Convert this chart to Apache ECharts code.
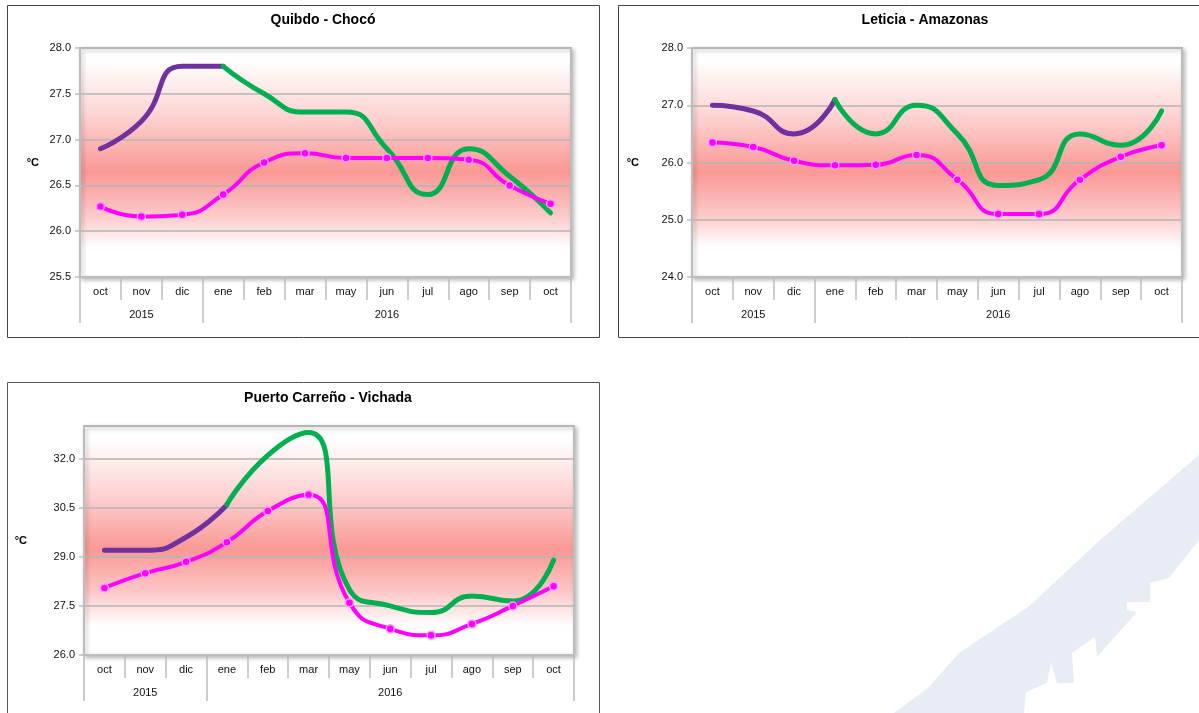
<!DOCTYPE html>
<html><head><meta charset="utf-8">
<script src="https://cdn.jsdelivr.net/npm/echarts@6/dist/echarts.min.js"></script>
<style>html,body{margin:0;padding:0;background:#fff}#c{width:1199px;height:713px}</style>
</head><body><div id="c"></div><script>
// ---------- data ----------
const months = ['oct','nov','dic','ene','feb','mar','may','jun','jul','ago','sep','oct'];
const yearLabels = ['2015','2016'];
const yearStarts = [0, 3];
const yearCounts = [3, 9];
const splitIndex = 3; // purple segment ends / green segment starts at 'ene'

const titles = ['Quibdo - Chocó', 'Leticia - Amazonas', 'Puerto Carreño - Vichada'];
const unitLabel = '°C';

const quibdoObserved = [26.9, 27.2, 27.8, 27.8, 27.5, 27.3, 27.3, 26.9, 26.4, 26.9, 26.6, 26.2];
const quibdoNormal   = [26.27, 26.16, 26.18, 26.4, 26.75, 26.85, 26.8, 26.8, 26.8, 26.78, 26.5, 26.3];
const quibdoTicks    = [25.5, 26.0, 26.5, 27.0, 27.5, 28.0];

const leticiaObserved = [27.0, 26.9, 26.5, 27.1, 26.5, 27.0, 26.5, 25.6, 25.7, 26.5, 26.3, 26.9];
const leticiaNormal   = [26.35, 26.27, 26.03, 25.95, 25.96, 26.13, 25.7, 25.1, 25.1, 25.7, 26.1, 26.3];
const leticiaTicks    = [24.0, 25.0, 26.0, 27.0, 28.0];

const carrenoObserved = [29.2, 29.2, 29.6, 30.6, 32.1, 32.8, 28.0, 27.5, 27.3, 27.8, 27.65, 28.9];
const carrenoNormal   = [28.05, 28.5, 28.85, 29.45, 30.4, 30.9, 27.6, 26.8, 26.6, 26.95, 27.5, 28.1];
const carrenoTicks    = [26.0, 27.5, 29.0, 30.5, 32.0];
const carrenoAxisMax  = 33.0;

// ---------- styling ----------
const FONT = "'Liberation Sans', Arial, sans-serif";
const PURPLE = '#7030a0', GREEN = '#00b050', MAGENTA = '#ff00ff';
const GRIDLINE = '#b5b5b5', AXIS = '#bdbdbd';

const yearRow = months.map(() => '');
yearLabels.forEach((y, k) => { yearRow[yearStarts[k] + Math.floor(yearCounts[k] / 2)] = y; });

const panels = [
  {title: titles[0], tx: 323, ty: 13, grid: {left: 80, top: 48, width: 491, height: 229}, obs: quibdoObserved, nor: quibdoNormal, ticks: quibdoTicks, max: quibdoTicks[quibdoTicks.length-1], nameGap: 41},
  {title: titles[1], tx: 925, ty: 13, grid: {left: 692, top: 48, width: 490, height: 229}, obs: leticiaObserved, nor: leticiaNormal, ticks: leticiaTicks, max: leticiaTicks[leticiaTicks.length-1], nameGap: 53},
  {title: titles[2], tx: 328, ty: 391, grid: {left: 84, top: 426, width: 490, height: 229}, obs: carrenoObserved, nor: carrenoNormal, ticks: carrenoTicks, max: carrenoAxisMax, nameGap: 57}
];

const bg = () => new echarts.graphic.LinearGradient(0, 0, 0, 1, [
  {offset: 0, color: '#ffffff'},
  {offset: 0.06, color: '#ffffff'},
  {offset: 0.3, color: '#fdd3d2'},
  {offset: 0.54, color: '#fa9895'},
  {offset: 0.72, color: '#fcc7c6'},
  {offset: 0.87, color: '#ffffff'},
  {offset: 1, color: '#ffffff'}
]);

const option = {
  animation: false,
  backgroundColor: '#ffffff',
  textStyle: {fontFamily: FONT},
  title: panels.map(p => ({
    text: p.title, left: p.tx, top: p.ty, textAlign: 'center', padding: 0,
    textStyle: {fontFamily: FONT, fontSize: 14, fontWeight: 'bold', color: '#000'}
  })),
  grid: panels.map(p => Object.assign({
    show: true, backgroundColor: bg(), borderColor: AXIS, borderWidth: 2,
    shadowColor: 'rgba(0,0,0,0.25)', shadowBlur: 4, shadowOffsetX: 2, shadowOffsetY: 2
  }, p.grid)),
  xAxis: [],
  yAxis: [],
  series: [],
  graphic: [
    {type: 'rect', shape: {x: 7.5, y: 5.5, width: 592, height: 332}, style: {fill: 'none', stroke: '#444', lineWidth: 1}, silent: true, z: -10},
    {type: 'rect', shape: {x: 618.5, y: 5.5, width: 590, height: 332}, style: {fill: 'none', stroke: '#444', lineWidth: 1}, silent: true, z: -10},
    {type: 'rect', shape: {x: 7.5, y: 382.5, width: 592, height: 340}, style: {fill: 'none', stroke: '#555', lineWidth: 1}, silent: true, z: -10},
    {type: 'polygon', silent: true, z: -20,
      shape: {points: [[894,713],[928,688],[959,653],[1028,607],[1039,597],[1100,540],[1199,455],[1199,540],[1169,578],[1150,583],[1150,602],[1127,602],[1127,610],[1137,612],[1097,657],[1095,637],[1072,653],[1074,683],[1057,683],[1051,663],[1047,683],[1026,692],[1024,713]]},
      style: {fill: '#e8edf5'}}
  ]
};

panels.forEach((p, g) => {
  option.xAxis.push({
    type: 'category', gridIndex: g, data: months, boundaryGap: true, position: 'bottom',
    axisLine: {show: true, lineStyle: {color: AXIS, width: 2}},
    axisTick: {show: true, inside: false, length: 23, lineStyle: {color: AXIS, width: 1.5}},
    axisLabel: {interval: 0, margin: 9, fontSize: 11, color: '#111', fontFamily: FONT},
    splitLine: {show: false}, z: 5
  });
  option.xAxis.push({
    type: 'category', gridIndex: g, data: yearRow, boundaryGap: true, position: 'bottom', offset: 23,
    axisLine: {show: false},
    axisTick: {show: true, inside: false, length: 23, interval: (idx) => yearStarts.indexOf(idx) >= 0, lineStyle: {color: AXIS, width: 1.5}},
    axisLabel: {interval: 0, margin: 9, fontSize: 11, color: '#111', fontFamily: FONT},
    splitLine: {show: false}
  });
  option.yAxis.push({
    type: 'value', gridIndex: g, min: p.ticks[0], max: p.max, interval: p.ticks[1] - p.ticks[0],
    name: unitLabel, nameLocation: 'middle', nameRotate: 0, nameGap: p.nameGap,
    nameTextStyle: {fontFamily: FONT, fontSize: 11, fontWeight: 'bold', color: '#000'},
    axisLine: {show: true, lineStyle: {color: AXIS, width: 2}},
    axisTick: {show: true, inside: false, length: 5, lineStyle: {color: AXIS, width: 1.5}},
    axisLabel: {margin: 9, fontSize: 11, color: '#111', fontFamily: FONT, showMaxLabel: p.ticks.indexOf(p.max) >= 0,
      formatter: v => (p.ticks.some(t => Math.abs(t - v) < 1e-6) ? v.toFixed(1) : '')},
    splitLine: {show: true, lineStyle: {color: GRIDLINE, width: 1.5}}
  });
  const xi = g * 2;
  option.series.push({
    type: 'line', xAxisIndex: xi, yAxisIndex: g, smooth: 0.55, showSymbol: false, symbol: 'none',
    data: p.obs.map((v, i) => (i <= splitIndex ? v : null)),
    lineStyle: {color: PURPLE, width: 5, cap: 'round'}, z: 3
  });
  option.series.push({
    type: 'line', xAxisIndex: xi, yAxisIndex: g, smooth: 0.55, showSymbol: false, symbol: 'none',
    data: p.obs.map((v, i) => (i >= splitIndex ? v : null)),
    lineStyle: {color: GREEN, width: 5, cap: 'round'}, z: 3
  });
  option.series.push({
    type: 'line', xAxisIndex: xi, yAxisIndex: g, smooth: 0.55, symbol: 'circle', symbolSize: 8,
    data: p.nor,
    lineStyle: {color: MAGENTA, width: 4},
    itemStyle: {color: MAGENTA, borderColor: '#ff9cff', borderWidth: 1.5}, z: 4
  });
});

const chart = echarts.init(document.getElementById('c'), null, {renderer: 'canvas'});
chart.setOption(option);
</script></body></html>
